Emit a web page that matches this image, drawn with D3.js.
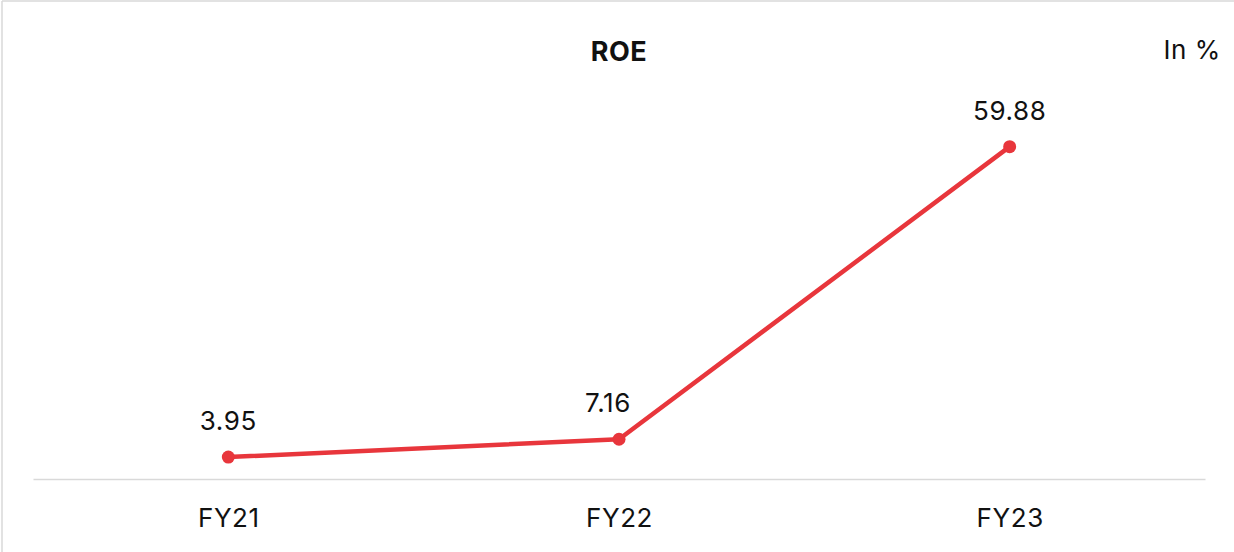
<!DOCTYPE html>
<html>
<head>
<meta charset="utf-8">
<script src="https://cdn.jsdelivr.net/npm/d3@7"></script>
<style>
  html, body { margin: 0; padding: 0; background: #ffffff; }
  svg { display: block; }
  text { font-family: Inter, "Noto Sans", sans-serif; fill: #111111; letter-spacing: 0.6px; }
</style>
</head>
<body>
<svg id="chart" width="1234" height="552"></svg>
<script>
// ROE by fiscal year, in percent
const years = ["FY21", "FY22", "FY23"];
const roe = [3.95, 7.16, 59.88];
const title = "ROE";
const unitLabel = "In %";

const width = 1234, height = 552;
const svg = d3.select("#chart");

// light frame on the left and top edges
svg.append("line").attr("x1", 2).attr("y1", 1).attr("x2", 2).attr("y2", height)
  .attr("stroke", "#d9d9d9").attr("stroke-width", 1.5);
svg.append("line").attr("x1", 2).attr("y1", 1).attr("x2", width).attr("y2", 1)
  .attr("stroke", "#d9d9d9").attr("stroke-width", 1.5);

const x = d3.scalePoint().domain(years).range([33, 1205]).padding(0.5);
const y = d3.scaleLinear().domain([0, 60]).range([479, 146]);

// category axis: baseline only, labels below
const xAxis = d3.axisBottom(x).tickSize(0).tickPadding(30);
const gx = svg.append("g").attr("transform", `translate(0,${y(0)})`).call(xAxis);
gx.select(".domain").attr("stroke", "#d9d9d9").attr("stroke-width", 1.5);
gx.selectAll(".tick text")
  .attr("font-family", "Inter, 'Noto Sans', sans-serif")
  .attr("font-size", 26)
  .attr("fill", "#111111")
  .attr("dy", "0.71em");

const data = years.map((d, i) => ({ year: d, value: roe[i] }));

const line = d3.line().x(d => x(d.year)).y(d => y(d.value));
svg.append("path")
  .datum(data)
  .attr("d", line)
  .attr("fill", "none")
  .attr("stroke", "#e8363c")
  .attr("stroke-width", 4.5)
  .attr("stroke-linejoin", "round");

svg.selectAll("circle.pt")
  .data(data)
  .join("circle")
  .attr("class", "pt")
  .attr("cx", d => x(d.year))
  .attr("cy", d => y(d.value))
  .attr("r", 6.5)
  .attr("fill", "#e8363c");

// value labels sit above each point; an interior label where the line turns
// sharply upward is nudged left so it clears the rising segment
svg.selectAll("text.val")
  .data(data)
  .join("text")
  .attr("class", "val")
  .attr("x", d => x(d.year))
  .attr("dx", (d, i) => (i > 0 && i < data.length - 1 && data[i + 1].value - d.value > 20) ? -11 : 0)
  .attr("y", d => y(d.value) - 27)
  .attr("text-anchor", "middle")
  .attr("font-size", 26)
  .text(d => d.value.toFixed(2));

svg.append("text")
  .attr("x", 619)
  .attr("y", 61)
  .attr("text-anchor", "middle")
  .attr("font-size", 27)
  .attr("font-weight", 700)
  .text(title);

svg.append("text")
  .attr("x", 1221)
  .attr("y", 59)
  .attr("text-anchor", "end")
  .attr("font-size", 26)
  .text(unitLabel);
</script>
</body>
</html>
